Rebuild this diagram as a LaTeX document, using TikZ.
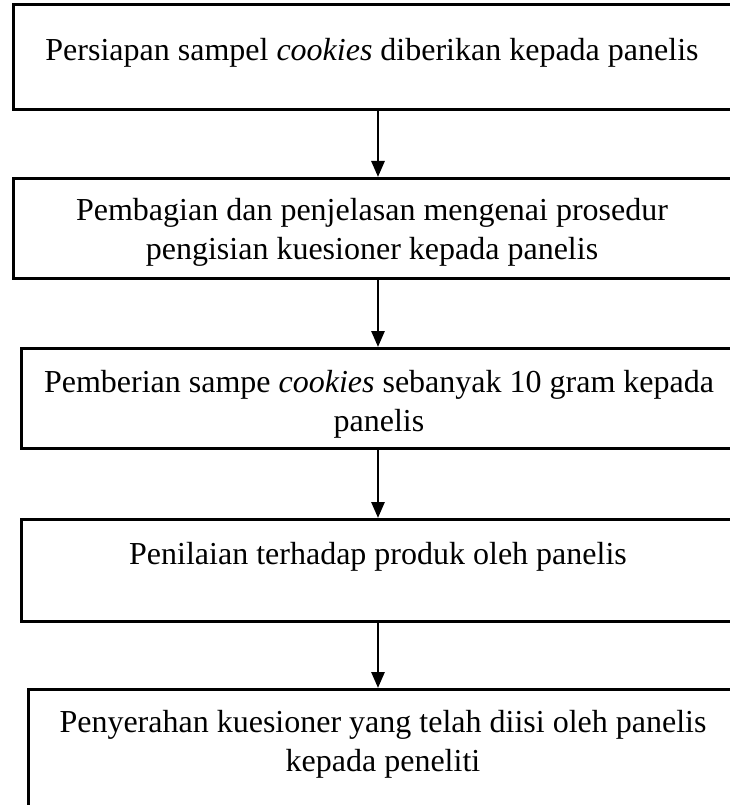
\documentclass[tikz,border=0pt]{standalone}
\usepackage{fontspec}
\setmainfont{Liberation Serif}
\usetikzlibrary{arrows.meta}
\begin{document}
\begin{tikzpicture}[x=1pt,y=-1pt,
  boxshape/.style={draw=black,line width=2.6pt,anchor=north west,minimum width=780pt,inner sep=0pt},
  label/.style={font=\fontsize{32}{39}\selectfont,align=center,inner sep=0pt},
  flow/.style={line width=2.8pt,-{Triangle[length=16pt,width=13pt]}}]
\useasboundingbox (0,0) rectangle (730,805);
\clip (0,0) rectangle (730,805);
\node[boxshape,minimum height=105pt] (b1) at (12,3) {};
\node[boxshape,minimum height=100pt] (b2) at (12,177) {};
\node[boxshape,minimum height=100pt] (b3) at (20,347) {};
\node[boxshape,minimum height=102pt] (b4) at (20,518) {};
\node[boxshape,minimum height=160pt] (b5) at (27,688) {};
\node[label] (t1) at (372,52.5) {Persiapan sampel \textit{cookies} diberikan kepada panelis};
\node[label] (t2) at (372,232.5) {Pembagian dan penjelasan mengenai prosedur\\pengisian kuesioner kepada panelis};
\node[label] (t3) at (379,404) {Pemberian sampe \textit{cookies} sebanyak 10 gram kepada\\panelis};
\node[label] (t4) at (378,556.5) {Penilaian terhadap produk oleh panelis};
\node[label] (t5) at (383,744.5) {Penyerahan kuesioner yang telah diisi oleh panelis\\kepada peneliti};
\coordinate (ax) at (378,0);
\draw[flow] (b1.south -| ax) -- (b2.north -| ax);
\draw[flow] (b2.south -| ax) -- (b3.north -| ax);
\draw[flow] (b3.south -| ax) -- (b4.north -| ax);
\draw[flow] (b4.south -| ax) -- (b5.north -| ax);
\end{tikzpicture}
\end{document}
